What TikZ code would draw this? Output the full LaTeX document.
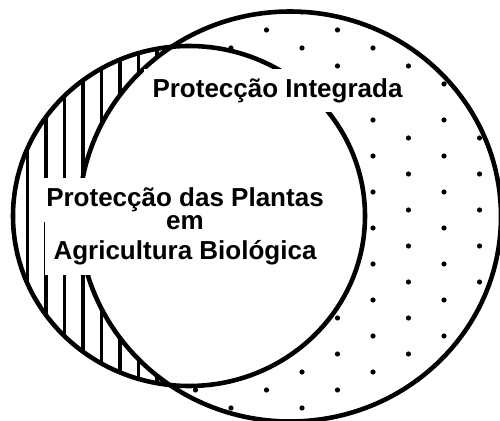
\documentclass[tikz,border=0pt]{standalone}
\usepackage{fontspec}
\newfontfamily\lblfont{Liberation Sans}
\begin{document}
\begin{tikzpicture}[x=0.02cm, y=-0.02cm,
    outline/.style={line width=2.6pt},
    hatch/.style={line width=1.9pt},
    lbl/.style={fill=white, inner xsep=5.1pt, inner ysep=5.5pt, anchor=base,
        font=\lblfont\bfseries\fontsize{14.8}{17}\selectfont}]
    \useasboundingbox (0,0) rectangle (500,421);

    \begin{scope}[even odd rule]
    \clip (189,216) ellipse [x radius=176, y radius=170];
    \clip (189,216) ellipse [x radius=176, y radius=170]
        (290,216.5) ellipse [x radius=211, y radius=205];
    \foreach \x in {27.5,46,...,158} \draw[hatch] (\x,30) -- (\x,400);
    \end{scope}

    \begin{scope}[even odd rule]
    \clip (290,216.5) ellipse [x radius=211, y radius=205];
    \clip (189,216) ellipse [x radius=176, y radius=170]
        (290,216.5) ellipse [x radius=211, y radius=205];
    \foreach \x in {231,302,373,444}
        \foreach \y in {12,48,...,408} \fill (\x,\y) circle (2.6);
    \foreach \x in {195.5,266.5,337.5,408.5,479.5}
        \foreach \y in {30,66,...,390} \fill (\x,\y) circle (2.6);
    \end{scope}

    \draw[outline] (189,216) ellipse [x radius=176, y radius=170];
    \draw[outline] (290,216.5) ellipse [x radius=211, y radius=205];

    \node[lbl] (integrada) at (277.5,97.3) {Protecção Integrada};
    \node[lbl] (plantas) at (185,206.7) {Protecção das Plantas};
    \node[lbl, text height=0.566cm] (agricultura) at (185,260) {Agricultura Biológica};
    \node[lbl, fill=none] (em) at (185,230) {em};
\end{tikzpicture}
\end{document}
